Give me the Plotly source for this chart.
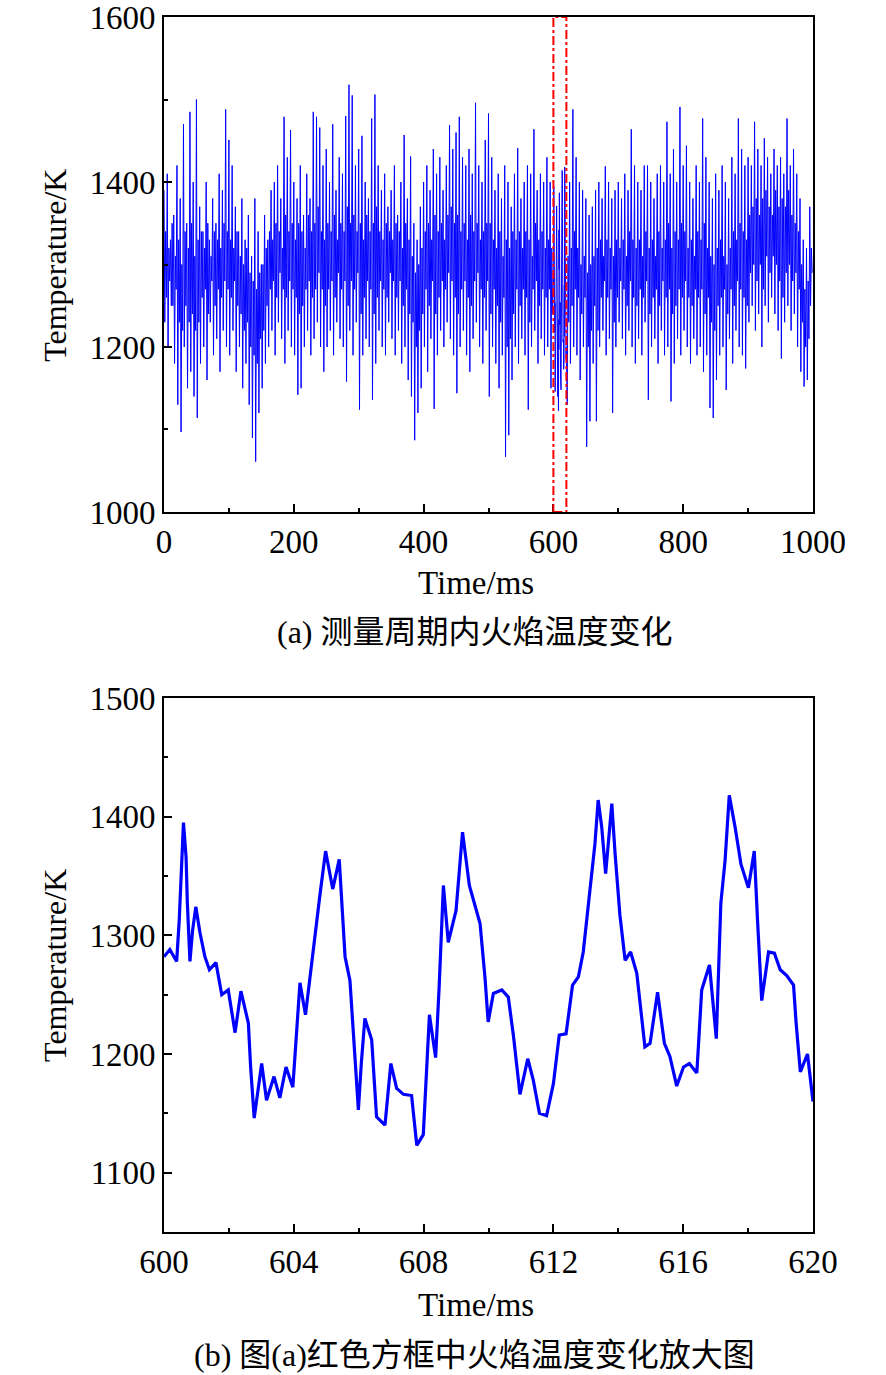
import plotly.graph_objects as go

# ---- Panel (a): estimated extremes of the full 0-1000 ms record (one group per 5 ms) ----
peak_temps = [
    1390, 1410, 1330, 1360, 1420, 1380, 1470, 1350, 1485, 1400,
    1500, 1370, 1340, 1400, 1330, 1380, 1350, 1410, 1390, 1488,
    1451, 1420, 1370, 1340, 1380, 1330, 1360, 1310, 1380, 1340,
    1300, 1360, 1330, 1390, 1400, 1420, 1380, 1479, 1430, 1463,
    1400, 1380, 1420, 1360, 1410, 1380, 1485, 1479, 1466, 1420,
    1440, 1400, 1470, 1390, 1430, 1410, 1480, 1518, 1505, 1420,
    1440, 1456, 1400, 1380, 1477, 1506, 1420, 1390, 1410, 1370,
    1390, 1420, 1360, 1400, 1457, 1380, 1431, 1350, 1330, 1370,
    1400, 1420, 1390, 1440, 1410, 1430, 1390, 1420, 1469, 1440,
    1460, 1479, 1430, 1420, 1440, 1410, 1496, 1420, 1400, 1451,
    1483, 1430, 1390, 1410, 1380, 1420, 1400, 1370, 1410, 1441,
    1380, 1400, 1420, 1410, 1464, 1390, 1410, 1400, 1430, 1400,
    1457, 1420, 1410, 1400, 1380, 1400, 1488, 1430, 1400, 1390,
    1380, 1360, 1370, 1390, 1400, 1380, 1419, 1400, 1380, 1390,
    1400, 1380, 1410, 1390, 1464, 1420, 1400, 1390, 1420, 1420,
    1400, 1380, 1410, 1420, 1400, 1473, 1410, 1440, 1400, 1491,
    1420, 1444, 1400, 1380, 1420, 1400, 1477, 1430, 1400, 1380,
    1410, 1390, 1420, 1400, 1380, 1430, 1410, 1477, 1440, 1420,
    1430, 1420, 1473, 1440, 1420, 1453, 1430, 1410, 1440, 1420,
    1430, 1410, 1477, 1420, 1440, 1410, 1380, 1330, 1320, 1370,
]
trough_temps = [
    1230, 1200, 1250, 1180, 1130, 1097, 1200, 1150, 1170, 1140,
    1114, 1180, 1200, 1160, 1230, 1190, 1210, 1170, 1220, 1200,
    1190, 1220, 1170, 1200, 1150, 1180, 1130, 1090, 1061, 1120,
    1150, 1180, 1200, 1220, 1190, 1230, 1210, 1180, 1220, 1200,
    1190, 1142, 1150, 1200, 1220, 1190, 1210, 1230, 1200, 1170,
    1200, 1220, 1190, 1230, 1210, 1200, 1158, 1220, 1190, 1230,
    1124, 1190, 1210, 1200, 1136, 1180, 1220, 1200, 1190, 1230,
    1210, 1190, 1220, 1180, 1200, 1160, 1140, 1087, 1120, 1150,
    1200, 1170, 1210, 1125, 1190, 1220, 1200, 1230, 1210, 1190,
    1144, 1200, 1220, 1190, 1170, 1210, 1230, 1200, 1180, 1220,
    1140, 1200, 1180, 1150, 1190, 1067, 1093, 1160, 1200, 1180,
    1210, 1190, 1124, 1200, 1220, 1180, 1210, 1190, 1200, 1150,
    1150, 1180, 1140, 1170, 1130, 1180, 1200, 1190, 1160, 1200,
    1079, 1110, 1180, 1110, 1200, 1220, 1190, 1210, 1120, 1200,
    1230, 1210, 1190, 1220, 1200, 1180, 1210, 1190, 1230, 1136,
    1200, 1210, 1180, 1220, 1190, 1200, 1134, 1180, 1210, 1190,
    1220, 1200, 1180, 1210, 1190, 1200, 1170, 1190, 1126, 1114,
    1160, 1190, 1200, 1148, 1210, 1180, 1220, 1200, 1190, 1174,
    1230, 1250, 1220, 1240, 1200, 1250, 1230, 1260, 1240, 1220,
    1186, 1230, 1250, 1220, 1240, 1200, 1170, 1152, 1160, 1250,
]
sub_peak_temps = [
    1340, 1320, 1350, 1310, 1330, 1300, 1340, 1320, 1350, 1310,
    1330, 1340, 1320, 1350, 1310, 1340, 1330, 1320, 1350, 1340,
    1330, 1320, 1340, 1310, 1300, 1320, 1290, 1280, 1270, 1290,
    1300, 1320, 1340, 1330, 1350, 1340, 1320, 1360, 1340, 1350,
    1330, 1350, 1340, 1320, 1360, 1340, 1350, 1370, 1340, 1330,
    1350, 1340, 1360, 1330, 1350, 1340, 1370, 1350, 1360, 1340,
    1350, 1330, 1360, 1340, 1350, 1370, 1340, 1330, 1350, 1340,
    1330, 1350, 1340, 1320, 1350, 1330, 1310, 1290, 1300, 1320,
    1340, 1350, 1330, 1360, 1340, 1350, 1330, 1360, 1370, 1350,
    1360, 1340, 1350, 1330, 1360, 1340, 1350, 1330, 1340, 1350,
    1350, 1330, 1320, 1340, 1310, 1330, 1320, 1340, 1330, 1340,
    1320, 1340, 1330, 1310, 1350, 1330, 1340, 1320, 1330, 1320,
    1330, 1320, 1330, 1320, 1310, 1320, 1340, 1320, 1300, 1310,
    1290, 1300, 1310, 1320, 1330, 1310, 1330, 1320, 1310, 1330,
    1320, 1330, 1310, 1340, 1330, 1320, 1330, 1310, 1340, 1320,
    1330, 1310, 1340, 1320, 1330, 1350, 1320, 1340, 1330, 1350,
    1340, 1320, 1330, 1310, 1340, 1330, 1350, 1320, 1310, 1300,
    1320, 1330, 1310, 1300, 1320, 1340, 1330, 1350, 1340, 1330,
    1360, 1370, 1380, 1360, 1380, 1390, 1370, 1360, 1390, 1370,
    1380, 1370, 1390, 1360, 1350, 1340, 1300, 1270, 1280, 1320,
]
sub_trough_temps = [
    1260, 1280, 1250, 1270, 1230, 1220, 1250, 1230, 1240, 1220,
    1230, 1260, 1270, 1240, 1280, 1250, 1270, 1260, 1280, 1270,
    1260, 1280, 1250, 1240, 1220, 1230, 1200, 1190, 1180, 1210,
    1220, 1250, 1270, 1280, 1260, 1290, 1270, 1260, 1280, 1270,
    1260, 1240, 1250, 1270, 1280, 1260, 1270, 1290, 1270, 1250,
    1270, 1280, 1260, 1290, 1270, 1280, 1250, 1280, 1270, 1290,
    1240, 1260, 1280, 1270, 1240, 1260, 1280, 1270, 1260, 1290,
    1280, 1260, 1280, 1250, 1270, 1240, 1230, 1200, 1220, 1240,
    1270, 1250, 1280, 1240, 1260, 1280, 1270, 1290, 1280, 1260,
    1240, 1270, 1280, 1260, 1250, 1280, 1290, 1270, 1260, 1280,
    1240, 1270, 1250, 1230, 1260, 1200, 1210, 1240, 1270, 1250,
    1270, 1260, 1230, 1270, 1280, 1250, 1270, 1260, 1270, 1240,
    1250, 1260, 1240, 1250, 1230, 1250, 1270, 1260, 1240, 1260,
    1200, 1220, 1250, 1220, 1260, 1280, 1260, 1270, 1230, 1260,
    1280, 1270, 1250, 1280, 1260, 1250, 1270, 1260, 1280, 1240,
    1260, 1270, 1250, 1280, 1260, 1270, 1240, 1250, 1270, 1260,
    1280, 1260, 1250, 1270, 1260, 1270, 1240, 1260, 1230, 1220,
    1250, 1260, 1270, 1240, 1270, 1250, 1280, 1270, 1260, 1250,
    1290, 1300, 1280, 1300, 1270, 1310, 1290, 1310, 1300, 1280,
    1260, 1290, 1300, 1280, 1290, 1270, 1230, 1200, 1210, 1290,
]
group_start = [5 * i for i in range(200)]   # ms, start of each 5 ms group

# ---- Panel (b): detailed trace 600-620 ms ----
zoom_time = [
    600.0, 600.18, 600.39, 600.47, 600.6, 600.68, 600.72, 600.8, 600.88, 600.98,
    601.11, 601.26, 601.4, 601.6, 601.78, 601.98, 602.19, 602.37, 602.6, 602.67,
    602.78, 602.87, 603.01, 603.16, 603.39, 603.57, 603.76, 603.97, 604.06, 604.19,
    604.36, 604.48, 604.65, 604.81, 604.98, 605.2, 605.4, 605.58, 605.73, 605.86,
    605.99, 606.08, 606.19, 606.4, 606.55, 606.81, 606.99, 607.17, 607.38, 607.63,
    607.79, 607.99, 608.09, 608.18, 608.37, 608.48, 608.61, 608.76, 609.0, 609.2,
    609.41, 609.74, 609.89, 609.99, 610.15, 610.41, 610.61, 610.77, 610.97, 611.21,
    611.38, 611.57, 611.79, 612.0, 612.18, 612.39, 612.59, 612.77, 612.92, 613.11,
    613.28, 613.38, 613.49, 613.61, 613.7, 613.8, 613.9, 614.05, 614.21, 614.38,
    614.57, 614.67, 614.82, 614.98, 615.21, 615.42, 615.59, 615.8, 616.01, 616.19,
    616.42, 616.57, 616.81, 617.02, 617.16, 617.29, 617.42, 617.6, 617.78, 618.01,
    618.19, 618.29, 618.42, 618.63, 618.81, 618.99, 619.19, 619.4, 619.48, 619.61,
    619.83, 620.0,
]
zoom_temp = [
    1282, 1288, 1278, 1313, 1395, 1366, 1327, 1278, 1304, 1324,
    1302, 1282, 1271, 1277, 1250, 1254, 1218, 1253, 1226, 1189,
    1146, 1165, 1192, 1161, 1181, 1163, 1189, 1172, 1209, 1260,
    1233, 1261, 1302, 1335, 1371, 1339, 1364, 1282, 1262, 1203,
    1153, 1192, 1230, 1212, 1147, 1140, 1192, 1171, 1166, 1165,
    1123, 1132, 1184, 1233, 1197, 1257, 1342, 1294, 1321, 1387,
    1342, 1310, 1265, 1227, 1251, 1254, 1248, 1215, 1166, 1196,
    1178, 1150, 1148, 1175, 1216, 1217, 1258, 1265, 1286, 1335,
    1377, 1414, 1391, 1352, 1380, 1411, 1369, 1317, 1279, 1286,
    1268, 1245, 1206, 1209, 1252, 1209, 1198, 1173, 1189, 1192,
    1184, 1254, 1275, 1213, 1327, 1363, 1418, 1391, 1360, 1340,
    1371, 1313, 1245, 1286, 1285, 1271, 1266, 1258, 1226, 1185,
    1200, 1160,
]

box_x = [600, 620]

xa_ticks = [0, 200, 400, 600, 800, 1000]
ya_ticks = [1000, 1200, 1400, 1600]
xb_ticks = [600, 604, 608, 612, 616, 620]
yb_ticks = [1100, 1200, 1300, 1400, 1500]

# build the full record: within each 5 ms group -> peak, trough, sub-peak, sub-trough
pts = []
for t0, a, b, c, d in zip(group_start, peak_temps, trough_temps, sub_peak_temps, sub_trough_temps):
    for dt, v in ((0.0, a), (1.25, b), (2.5, c), (3.75, d)):
        t = t0 + dt
        if not (box_x[0] <= t <= box_x[1]):
            pts.append((t, v))
pts += list(zip(zoom_time, zoom_temp))
pts.sort()
full_t = [p[0] for p in pts]
full_v = [p[1] for p in pts]

FONT = "Liberation Serif, 'Times New Roman', 'Noto Sans CJK SC', serif"
BLUE = "#0000FF"

fig = go.Figure()
fig.add_trace(go.Scatter(x=full_t, y=full_v, mode="lines",
                         line=dict(color=BLUE, width=1), xaxis="x", yaxis="y",
                         showlegend=False))
fig.add_trace(go.Scatter(x=zoom_time, y=zoom_temp, mode="lines",
                         line=dict(color=BLUE, width=3.2), xaxis="x2", yaxis="y2",
                         showlegend=False))

axis_common = dict(showgrid=False, zeroline=False, showline=True, linecolor="black",
                   linewidth=1.6, mirror=True, ticks="inside", ticklen=8, tickwidth=1.6,
                   tickcolor="black", automargin=False, ticklabeloverflow="allow",
                   tickfont=dict(family=FONT, size=33, color="black"))
minor_common = dict(ticks="inside", ticklen=4, tickwidth=1.6, tickcolor="black")

fig.update_layout(
    width=886, height=1375,
    margin=dict(l=164, r=73, t=17, b=143),
    paper_bgcolor="white", plot_bgcolor="white",
    font=dict(family=FONT, size=33, color="black"),
    xaxis=dict(domain=[0, 1], anchor="y", range=[0, 1000], tickvals=xa_ticks,
               minor=dict(dtick=100, tick0=0, **minor_common), **axis_common),
    yaxis=dict(domain=[0.5926, 1.0], anchor="x", range=[1000, 1600], tickvals=ya_ticks,
               minor=dict(dtick=100, tick0=1000, **minor_common), **axis_common),
    xaxis2=dict(domain=[0, 1], anchor="y2", range=[600, 620], tickvals=xb_ticks,
                minor=dict(dtick=2, tick0=600, **minor_common), **axis_common),
    yaxis2=dict(domain=[0, 0.4395], anchor="x2", range=[1050, 1500], tickvals=yb_ticks,
                minor=dict(dtick=50, tick0=1050, **minor_common), **axis_common),
)

fig.add_shape(type="rect", xref="x", yref="y", x0=box_x[0], x1=box_x[1], y0=1000, y1=1600,
              line=dict(color="red", width=2, dash="dashdot"), layer="above")

ann = [
    dict(text="Time/ms", x=0.480, y=0.534, textangle=0, size=33),
    dict(text="(a) 测量周期内火焰温度变化", x=0.479, y=0.4938, textangle=0, size=32),
    dict(text="Temperature/K", x=-0.168, y=0.796, textangle=-90, size=32),
    dict(text="Time/ms", x=0.480, y=-0.060, textangle=0, size=33),
    dict(text="(b) 图(a)红色方框中火焰温度变化放大图", x=0.478, y=-0.101, textangle=0, size=32),
    dict(text="Temperature/K", x=-0.168, y=0.2198, textangle=-90, size=32),
]
for a in ann:
    size = a.pop("size")
    fig.add_annotation(xref="paper", yref="paper", showarrow=False,
                       xanchor="center", yanchor="middle",
                       font=dict(family=FONT, size=size, color="black"), **a)

fig.write_html("out.html",
               config={"displayModeBar": False},
               post_script="document.body.style.margin='0';document.body.style.padding='0';"
                           "document.documentElement.style.overflow='hidden';")
